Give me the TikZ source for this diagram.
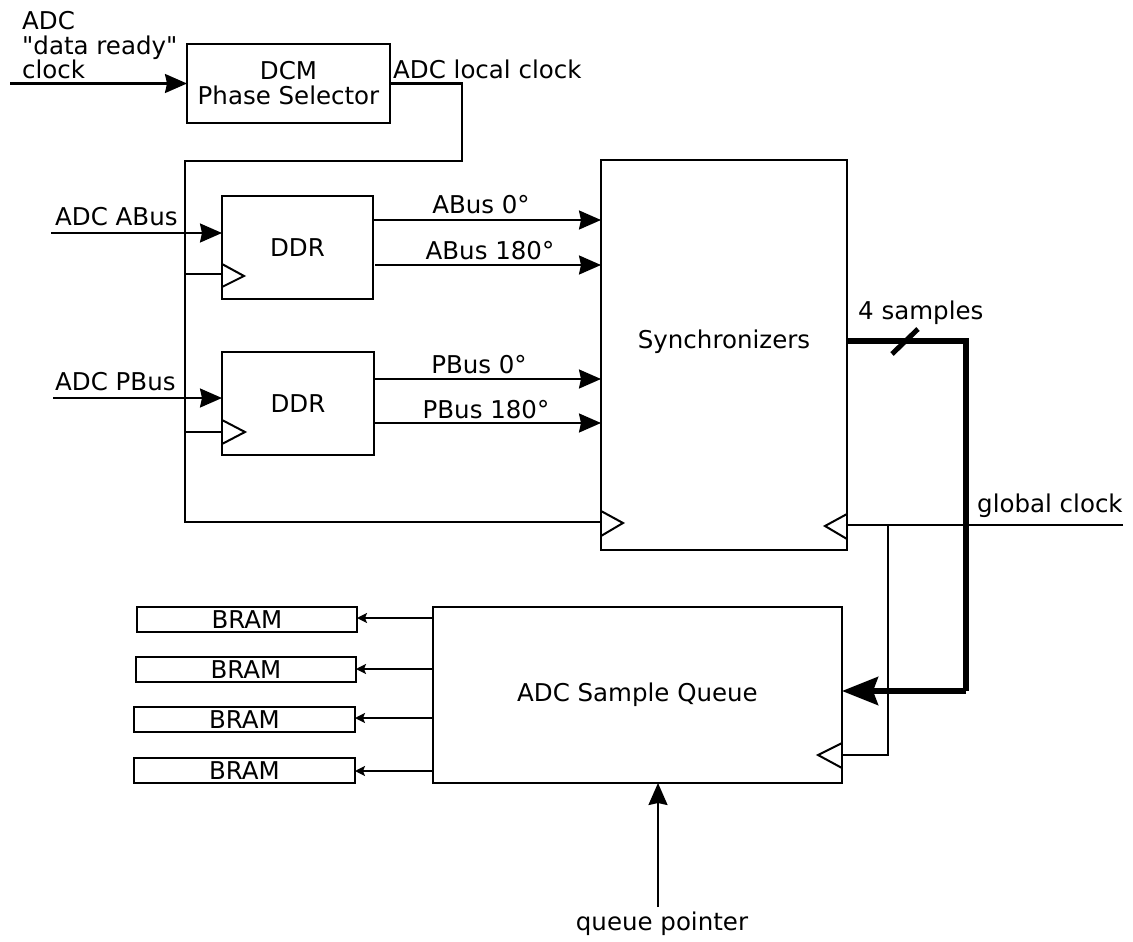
\documentclass[tikz,border=0pt]{standalone}
\usepackage{fontspec}
\setmainfont{DejaVu Sans}[Ligatures=TeXOff]
\usetikzlibrary{arrows.meta}
\begin{document}
\begin{tikzpicture}[x=1pt,y=-1pt,
  font=\fontsize{24.5}{25}\selectfont,
  blk/.style={draw, line width=2.4pt, inner sep=0pt, outer sep=0pt, anchor=north west, align=center},
  wire/.style={line width=2.2pt},
  thinwire/.style={line width=1.8pt},
  arr/.style={wire, -{Stealth[length=22pt,width=19pt,inset=2pt]}},
  smallarr/.style={thinwire, -{Stealth[length=10pt,width=10pt,inset=2pt]}},
  busarr/.style={line width=5.5pt, -{Stealth[length=36pt,width=28pt,inset=5pt]}},
  lbl/.style={inner sep=0pt, anchor=base west},
  lblc/.style={inner sep=0pt, anchor=base},
  clk/.style={line width=2pt, line join=miter}]
\useasboundingbox (0,0) rectangle (1133,942);

% blocks
\node[blk, minimum width=203pt, minimum height=79pt] (dcm) at (187,44) {DCM\\Phase Selector};
\node[blk, minimum width=151pt, minimum height=103pt] (ddr1) at (222,196) {DDR};
\node[blk, minimum width=152pt, minimum height=103pt] (ddr2) at (222,352) {DDR};
\node[blk, minimum width=246pt, minimum height=390pt] (sync) at (601,160) {};
\node[lblc] (synct) at (724,348) {Synchronizers};
\node[blk, minimum width=409pt, minimum height=176pt] (queue) at (433,607) {ADC Sample Queue};
\node[blk, minimum width=220pt, minimum height=25pt] (b1) at (137,607) {BRAM};
\node[blk, minimum width=220pt, minimum height=25pt] (b2) at (136,657) {BRAM};
\node[blk, minimum width=221pt, minimum height=25pt] (b3) at (134,707) {BRAM};
\node[blk, minimum width=221pt, minimum height=25pt] (b4) at (134,758) {BRAM};

% clock triangles
\draw[clk] (222,264) -- (244,276) -- (222,287);
\draw[clk] (222,420) -- (245,432) -- (222,444);
\draw[clk] (601,511) -- (623,523) -- (601,536);
\draw[clk] (847,514) -- (825,526) -- (847,539);
\draw[clk] (842,743) -- (818,755) -- (842,768);

% input labels
\node[lbl] (l1) at (22,30) {ADC};
\node[lbl] (l2) at (22,55) {"data ready"};
\node[lbl] (l3) at (22,79) {clock};
\coordinate (inclk) at (10,83.5);
\draw[arr] (inclk) -- (dcm.west);

\node[lbl] (llc) at (393,78) {ADC local clock};

% local clock distribution
\coordinate (c1) at (462,161);
\coordinate (c2) at (185,161);
\coordinate (c3) at (185,522);
\coordinate (sclk) at (601,522);
\coordinate (ja) at (185,274);
\coordinate (jp) at (185,432);
\coordinate (dac) at (222,274);
\coordinate (dpc) at (222,432);
\draw[wire] (dcm.east) -| (c1) -- (c2) -- (c3) -- (sclk);
\draw[wire] (ja) -- (dac);
\draw[wire] (jp) -- (dpc);

% ADC bus inputs
\node[lbl] (la) at (55,225) {ADC ABus};
\node[lbl] (lp) at (55,390) {ADC PBus};
\coordinate (ain) at (51,233);
\coordinate (pin) at (53,398);
\draw[arr] (ain) -- (ddr1.west |- ain);
\draw[arr] (pin) -- (ddr2.west |- pin);

% DDR outputs
\coordinate (a0) at (373,220);
\coordinate (a180) at (375,265);
\coordinate (p0) at (374,379);
\coordinate (p180) at (374,423);
\draw[arr] (a0) -- (sync.west |- a0);
\draw[arr] (a180) -- (sync.west |- a180);
\draw[arr] (p0) -- (sync.west |- p0);
\draw[arr] (p180) -- (sync.west |- p180);
\node[lblc] (la0) at (481,213) {ABus 0°};
\node[lblc] (la180) at (490,259) {ABus 180°};
\node[lblc] (lp0) at (479,373) {PBus 0°};
\node[lblc] (lp180) at (486,418) {PBus 180°};

% global clock
\coordinate (gc) at (1123,525);
\coordinate (gj) at (888,525);
\coordinate (gq) at (888,755);
\draw[wire] (gc) -- (sync.east |- gc);
\draw[wire] (gj) -- (gq) -- (queue.east |- gq);
\node[lbl] (lgc) at (977,512) {global clock};

% 4-sample bus
\coordinate (s1) at (966,341);
\coordinate (s2) at (966,691);
\draw[line width=5.5pt] (sync.east |- s1) -- (s1) -- (s2);
\draw[busarr] (s2) -- (queue.east |- s2);
\coordinate (sl1) at (892,354);
\coordinate (sl2) at (918,329);
\draw[line width=5pt] (sl1) -- (sl2);
\node[lbl] (l4s) at (858,319) {4 samples};

% BRAM outputs
\coordinate (q1) at (433,618);
\coordinate (q2) at (433,669);
\coordinate (q3) at (433,718);
\coordinate (q4) at (433,771);
\draw[smallarr] (q1) -- (b1.east |- q1);
\draw[smallarr] (q2) -- (b2.east |- q2);
\draw[smallarr] (q3) -- (b3.east |- q3);
\draw[smallarr] (q4) -- (b4.east |- q4);

% queue pointer
\coordinate (qp) at (658,907);
\draw[arr] (qp) -- (queue.south -| qp);
\node[lblc] (lqp) at (662,930) {queue pointer};
\end{tikzpicture}
\end{document}
